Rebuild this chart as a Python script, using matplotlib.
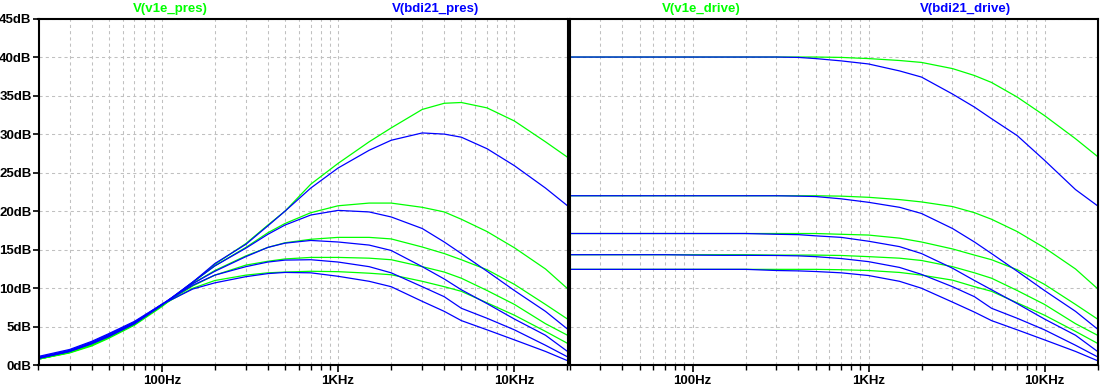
import matplotlib

matplotlib.use("Agg")
import matplotlib.pyplot as plt
from matplotlib.ticker import FixedLocator, LogLocator, NullFormatter

plt.rcParams["font.family"] = ["Liberation Sans", "DejaVu Sans"]

GREEN = "#00ff00"
BLUE = "#0000ff"

freq = [20, 30, 40, 50, 70, 100, 150, 200, 300, 400, 500, 700,
        1000, 1500, 2000, 3000, 4000, 5000, 7000, 10000, 15000, 20000]

# left pane: V(v1e_pres) (green) and V(bdi21_pres) (blue), dB
pres_v1e = [
    [0.8, 1.6, 2.5, 3.5, 5.2, 7.6, 10.7, 13.1, 15.8, 18.2, 20.0, 23.5, 26.2, 29.0, 30.8, 33.2, 34.0, 34.1, 33.4, 31.7, 29.0, 27.0],
    [0.8, 1.65, 2.6, 3.6, 5.3, 7.7, 10.8, 12.9, 15.3, 17.2, 18.4, 19.8, 20.7, 21.05, 21.05, 20.5, 19.9, 18.95, 17.35, 15.25, 12.5, 9.95],
    [0.8, 1.7, 2.65, 3.65, 5.3, 7.8, 10.6, 12.3, 14.2, 15.3, 15.9, 16.35, 16.6, 16.6, 16.4, 15.35, 14.5, 13.7, 12.4, 10.5, 7.9, 6.0],
    [0.8, 1.7, 2.7, 3.7, 5.4, 7.8, 10.3, 11.7, 13.0, 13.5, 13.8, 14.0, 14.0, 13.9, 13.7, 12.8, 12.1, 11.3, 9.7, 7.9, 5.4, 3.9],
    [0.85, 1.75, 2.75, 3.75, 5.45, 7.8, 10.0, 11.0, 11.7, 12.0, 12.1, 12.2, 12.15, 11.95, 11.75, 10.9, 10.2, 9.6, 8.1, 6.5, 4.4, 2.85],
]
pres_bdi21 = [
    [0.9, 1.8, 2.8, 3.7, 5.4, 7.8, 10.8, 13.2, 15.7, 18.1, 20.0, 23.0, 25.6, 27.9, 29.2, 30.15, 30.0, 29.6, 28.1, 25.9, 23.0, 20.7],
    [0.9, 1.8, 2.8, 3.8, 5.4, 7.8, 10.8, 12.9, 15.2, 17.0, 18.2, 19.5, 20.1, 19.9, 19.25, 17.75, 16.0, 14.5, 12.2, 9.7, 7.0, 4.7],
    [0.95, 1.85, 2.9, 3.9, 5.5, 7.9, 10.6, 12.2, 14.1, 15.3, 15.85, 16.2, 16.0, 15.6, 14.9, 12.8, 11.2, 9.8, 8.0, 6.0, 3.9, 1.8],
    [1.05, 1.95, 3.0, 4.0, 5.6, 7.9, 10.4, 11.7, 12.8, 13.4, 13.65, 13.7, 13.4, 12.8, 12.0, 10.2, 8.9, 7.4, 6.1, 4.6, 2.6, 1.1],
    [1.15, 2.05, 3.1, 4.1, 5.7, 7.9, 9.9, 10.7, 11.5, 11.9, 12.05, 12.0, 11.55, 10.9, 10.2, 8.3, 7.0, 5.8, 4.6, 3.3, 1.8, 0.6],
]

# right pane: V(v1e_drive) (green) and V(bdi21_drive) (blue), dB
drive_v1e = [
    [40.0, 40.0, 40.0, 40.0, 40.0, 40.0, 40.0, 40.0, 40.0, 40.0, 40.0, 39.95, 39.8, 39.55, 39.3, 38.5, 37.6, 36.7, 34.8, 32.4, 29.4, 27.1],
    [22.0, 22.0, 22.0, 22.0, 22.0, 22.0, 22.0, 22.0, 22.0, 22.0, 22.0, 21.95, 21.8, 21.5, 21.2, 20.6, 19.8, 18.95, 17.35, 15.25, 12.5, 9.95],
    [17.1, 17.1, 17.1, 17.1, 17.1, 17.1, 17.1, 17.1, 17.1, 17.1, 17.1, 17.0, 16.9, 16.5, 16.0, 15.1, 14.3, 13.7, 12.4, 10.5, 7.9, 6.0],
    [14.35, 14.35, 14.35, 14.35, 14.35, 14.35, 14.35, 14.35, 14.3, 14.3, 14.3, 14.25, 14.1, 13.9, 13.6, 12.8, 12.0, 11.3, 9.7, 7.9, 5.4, 3.9],
    [12.45, 12.45, 12.45, 12.45, 12.45, 12.45, 12.45, 12.45, 12.45, 12.45, 12.45, 12.4, 12.3, 12.05, 11.7, 11.05, 10.2, 9.6, 8.1, 6.5, 4.4, 2.85],
]
drive_bdi21 = [
    [40.0, 40.0, 40.0, 40.0, 40.0, 40.0, 40.0, 40.0, 40.0, 39.95, 39.8, 39.5, 39.1, 38.2, 37.4, 35.2, 33.5, 32.0, 29.8, 26.6, 22.8, 20.7],
    [22.0, 22.0, 22.0, 22.0, 22.0, 22.0, 22.0, 22.0, 22.0, 21.95, 21.9, 21.6, 21.15, 20.5, 19.7, 17.75, 16.0, 14.5, 12.2, 9.7, 7.0, 4.7],
    [17.1, 17.1, 17.1, 17.1, 17.1, 17.1, 17.1, 17.1, 17.0, 16.95, 16.8, 16.6, 16.1, 15.4, 14.5, 12.6, 11.0, 9.8, 8.0, 6.0, 3.9, 1.8],
    [14.35, 14.35, 14.35, 14.35, 14.35, 14.3, 14.27, 14.27, 14.25, 14.2, 14.1, 13.85, 13.45, 12.7, 11.8, 10.2, 8.9, 7.4, 6.1, 4.6, 2.6, 1.1],
    [12.45, 12.45, 12.45, 12.45, 12.45, 12.45, 12.45, 12.45, 12.3, 12.25, 12.17, 12.0, 11.65, 10.9, 10.0, 8.2, 6.9, 5.8, 4.6, 3.3, 1.8, 0.6],
]

x_ticks = [100, 1000, 10000]
x_labels = ["100Hz", "1KHz", "10KHz"]
y_ticks = [0, 5, 10, 15, 20, 25, 30, 35, 40, 45]
y_labels = [f"{v}dB" for v in y_ticks]

W, H = 1100, 390
GRID = dict(color="#c0c0c0", linestyle=(0, (3, 3)), linewidth=0.75)


def style_pane(ax, show_y):
    ax.set_xscale("log")
    ax.set_xlim(20, 20000)
    ax.set_ylim(0, 45)
    ax.xaxis.set_major_locator(FixedLocator(x_ticks))
    ax.set_xticklabels(x_labels, fontweight="bold")
    ax.xaxis.set_minor_locator(LogLocator(base=10, subs=range(2, 10)))
    ax.xaxis.set_minor_formatter(NullFormatter())
    ax.set_yticks(y_ticks)
    ax.grid(True, which="both", axis="x", **GRID)
    ax.grid(True, which="major", axis="y", **GRID)
    ax.set_axisbelow(True)
    for spine in ax.spines.values():
        spine.set_linewidth(1.5)
        spine.set_color("black")
    ax.tick_params(axis="x", which="major", length=5, width=1.2, pad=2,
                   labelsize=9.5, labelcolor="black", direction="out")
    ax.tick_params(axis="x", which="minor", length=3.5, width=1.0, direction="out")
    if show_y:
        ax.set_yticklabels(y_labels, fontweight="bold")
        ax.tick_params(axis="y", length=4, width=1.2, pad=1, labelsize=9.5, direction="out")
    else:
        ax.tick_params(axis="y", length=0, labelleft=False)


def draw_pane(ax, green_traces, blue_traces, green_name, blue_name, show_y):
    style_pane(ax, show_y)
    for trace in green_traces:
        ax.plot(freq, trace, color=GREEN, linewidth=0.9)
    for trace in blue_traces:
        ax.plot(freq, trace, color=BLUE, linewidth=0.9)
    ax.text(0.25, 1.026, green_name, transform=ax.transAxes, ha="center", va="center",
            color=GREEN, fontsize=9.5, fontweight="bold")
    ax.text(0.75, 1.026, blue_name, transform=ax.transAxes, ha="center", va="center",
            color=BLUE, fontsize=9.5, fontweight="bold")


def main():
    fig = plt.figure(figsize=(W / 100, H / 100), dpi=100)
    bottom = 1 - 365.3 / H
    height = (365.3 - 18.5) / H
    left_ax = fig.add_axes([38.5 / W, bottom, (567.5 - 38.5) / W, height])
    right_ax = fig.add_axes([569.5 / W, bottom, (1097.5 - 569.5) / W, height])

    draw_pane(left_ax, pres_v1e, pres_bdi21, "V(v1e_pres)", "V(bdi21_pres)", True)
    draw_pane(right_ax, drive_v1e, drive_bdi21, "V(v1e_drive)", "V(bdi21_drive)", False)

    fig.savefig("out.png", dpi=100)


if __name__ == "__main__":
    main()
